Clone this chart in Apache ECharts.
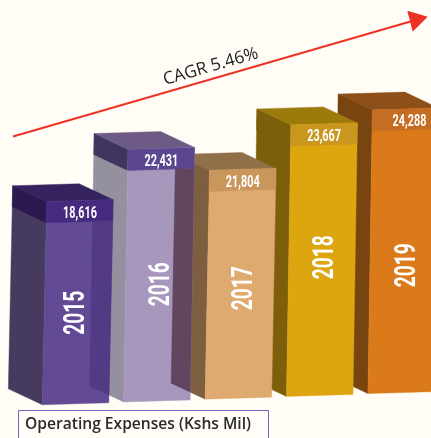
<!DOCTYPE html>
<html>
<head>
<meta charset="utf-8">
<style>html,body{margin:0;padding:0;background:#fffdf6}#c{width:431px;height:438px}</style>
<script src="https://cdn.jsdelivr.net/npm/echarts@6/dist/echarts.min.js"></script>
</head>
<body>
<div id="c"></div>
<script>
// ---- data ----
var categories = ['2015', '2016', '2017', '2018', '2019'];
var values = [18616, 22431, 21804, 23667, 24288];        // printed values (Kshs Mil)
// The source infographic's bars are not strictly to scale; the height each bar is drawn at, in axis units.
var drawnLevels = [18616, 22100, 20428, 23440, 24288];
var chartTitle = 'Operating Expenses (Kshs Mil)';
var growthLabel = 'CAGR 5.46%';

// ---- styles ----
var palette = [
  {front:'#624a94', band:'#452a80', side:'#463a5f', sideBand:'#2a1a50', top:'#35235f', overlay:'#523a85'},
  {front:'#a797bd', band:'#5b4690', side:'#95909f', sideBand:'#40355f', top:'#6d5a85', overlay:'#62455f'},
  {front:'#dfaa6f', band:'#c9965c', side:'#7d5e3e', sideBand:'#7d5e3e', top:'#8f7048'},
  {front:'#dda60f', band:'#c9961e', side:'#7d5e0b', sideBand:'#7d5e0b', top:'#9d7a0c'},
  {front:'#da7a1a', band:'#c56d22', side:'#78440f', sideBand:'#78440f', top:'#8c5018'}
];
var yearNudge = [[-1,-1],[2,-2],[4,-7],[4,-14],[4,3]];
var valueNudge = [[0,2],[0,2],[0,2],[0,1],[4,1]];
var AXIS_MIN = 4300, AXIS_MAX = 32500;
var HALF = 33.3, WIDTH = 66.5, LEAN = 4.4, RISE = 2, BAND = 21, DX = 34, DY = 16, SLOPE = 2.8;

function geom(api, i) {
  var t = api.coord([i, drawnLevels[i]]);
  var b = api.coord([i, AXIS_MIN]);
  var s = SLOPE * i;
  var x = b[0] - HALF, yb = b[1] - s, yt = t[1] - s;
  var g = {
    ftl: [x + LEAN, yt], ftr: [x + LEAN + WIDTH, yt - RISE],
    fbl: [x, yb], fbr: [x + WIDTH, yb - RISE],
    btl: [x + LEAN - DX, yt - DY], btr: [x + LEAN + WIDTH - DX, yt - RISE - DY],
    bbl: [x - DX, yb - DY]
  };
  var k = BAND / (yb - yt);
  g.bl = [g.ftl[0] - LEAN * k, yt + BAND];
  g.br = [g.ftr[0] - LEAN * k, yt - RISE + BAND];
  g.sbl = [g.btl[0] - LEAN * k, g.btl[1] + BAND];
  return g;
}
function clipPoly(subject, clip) { // Sutherland-Hodgman, convex clip given clockwise on screen
  var out = subject;
  for (var i = 0; i < clip.length && out.length; i++) {
    var a = clip[i], b = clip[(i + 1) % clip.length], input = out; out = [];
    var inside = function (p) { return (b[0]-a[0])*(p[1]-a[1]) - (b[1]-a[1])*(p[0]-a[0]) >= 0; };
    for (var j = 0; j < input.length; j++) {
      var p = input[j], q = input[(j + 1) % input.length], pi = inside(p), qi = inside(q);
      if (pi) out.push(p);
      if (pi !== qi) {
        var d1 = (b[0]-a[0])*(p[1]-a[1]) - (b[1]-a[1])*(p[0]-a[0]);
        var d2 = (b[0]-a[0])*(q[1]-a[1]) - (b[1]-a[1])*(q[0]-a[0]);
        var t = d1 / (d1 - d2);
        out.push([p[0] + (q[0]-p[0])*t, p[1] + (q[1]-p[1])*t]);
      }
    }
  }
  return out;
}
function poly(points, fill) {
  return {type:'polygon', shape:{points:points}, style:{fill:fill, stroke:fill, lineWidth:0.4}};
}
function label(text, x, y, size, sx, rotation) {
  return {type:'text', x:x, y:y, rotation:rotation, scaleX:sx, scaleY:1, z2:10,
    style:{text:text, fill:'#ffffff', fontFamily:'Roboto', fontWeight:700, fontSize:size, align:'center', verticalAlign:'middle'}};
}
function renderBar(params, api) {
  var i = api.value(0), g = geom(api, i), c = palette[i];
  var kids = [
    poly([g.btl, g.ftl, g.fbl, g.bbl], c.side),
    poly([g.btl, g.ftl, g.bl, g.sbl], c.sideBand),
    poly([g.btl, g.btr, g.ftr, g.ftl], c.top),
    poly([g.ftl, g.ftr, g.fbr, g.fbl], c.front),
    poly([g.ftl, g.ftr, g.br, g.bl], c.band)
  ];
  if (c.overlay && i + 1 < categories.length) {
    var n = geom(api, i + 1);
    var region = [g.bl, g.br, g.fbr, g.fbl];
    var pts = clipPoly([n.btl, n.ftl, n.fbl, n.bbl], region);
    if (pts.length > 2) kids.push(poly(pts, c.overlay));
  }
  var cx = (g.ftl[0] + g.ftr[0] + g.fbl[0] + g.fbr[0]) / 4;
  var midY = (g.bl[1] + g.fbl[1]) / 2;
  kids.push(label(categories[i], cx + yearNudge[i][0], midY + yearNudge[i][1], 30, 0.64, Math.PI / 2));
  kids.push(label(values[i].toLocaleString('en-US'), (g.ftl[0] + g.ftr[0]) / 2 + valueNudge[i][0], g.ftl[1] + BAND / 2 + valueNudge[i][1], 17, 0.64, 0));
  return {type:'group', children:kids};
}

// later bars sit behind earlier ones in the picture, so they are listed first
var seriesData = categories.map(function (c, i) { return [i, drawnLevels[i]]; }).reverse();

var chart = echarts.init(document.getElementById('c'), null, {renderer:'canvas'});
chart.setOption({
  animation:false,
  backgroundColor:'#fffdf6',
  grid:{left:34.9, width:407, top:4.8, height:400, outerBoundsMode:'none'},
  xAxis:{type:'category', data:categories, show:false},
  yAxis:{type:'value', min:AXIS_MIN, max:AXIS_MAX, show:false},
  series:[{type:'custom', renderItem:renderBar, data:seriesData, encode:{x:0, y:1}, clip:false}],
  graphic:[
    {type:'line', shape:{x1:13, y1:136.5, x2:414, y2:20.5}, style:{stroke:'#ee3124', lineWidth:2}},
    {type:'polygon', shape:{points:[[427.7,16.7],[407.3,10.7],[412.7,31.7]]}, style:{fill:'#ee3124'}},
    {type:'text', x:210.7, y:66.7, rotation:0.28, style:{text:growthLabel, fill:'#222222', fontFamily:'Open Sans', fontWeight:500, fontSize:17.3, align:'center', verticalAlign:'middle'}},
    {type:'rect', shape:{x:18.5, y:410.5, width:250, height:40}, style:{fill:'none', stroke:'#7a5fc0', lineWidth:1}},
    {type:'text', x:25, y:425, style:{text:chartTitle, fill:'#2b2b2b', fontFamily:'Open Sans', fontWeight:600, fontSize:15.6, align:'left', verticalAlign:'middle'}}
  ]
});
</script>
</body>
</html>
